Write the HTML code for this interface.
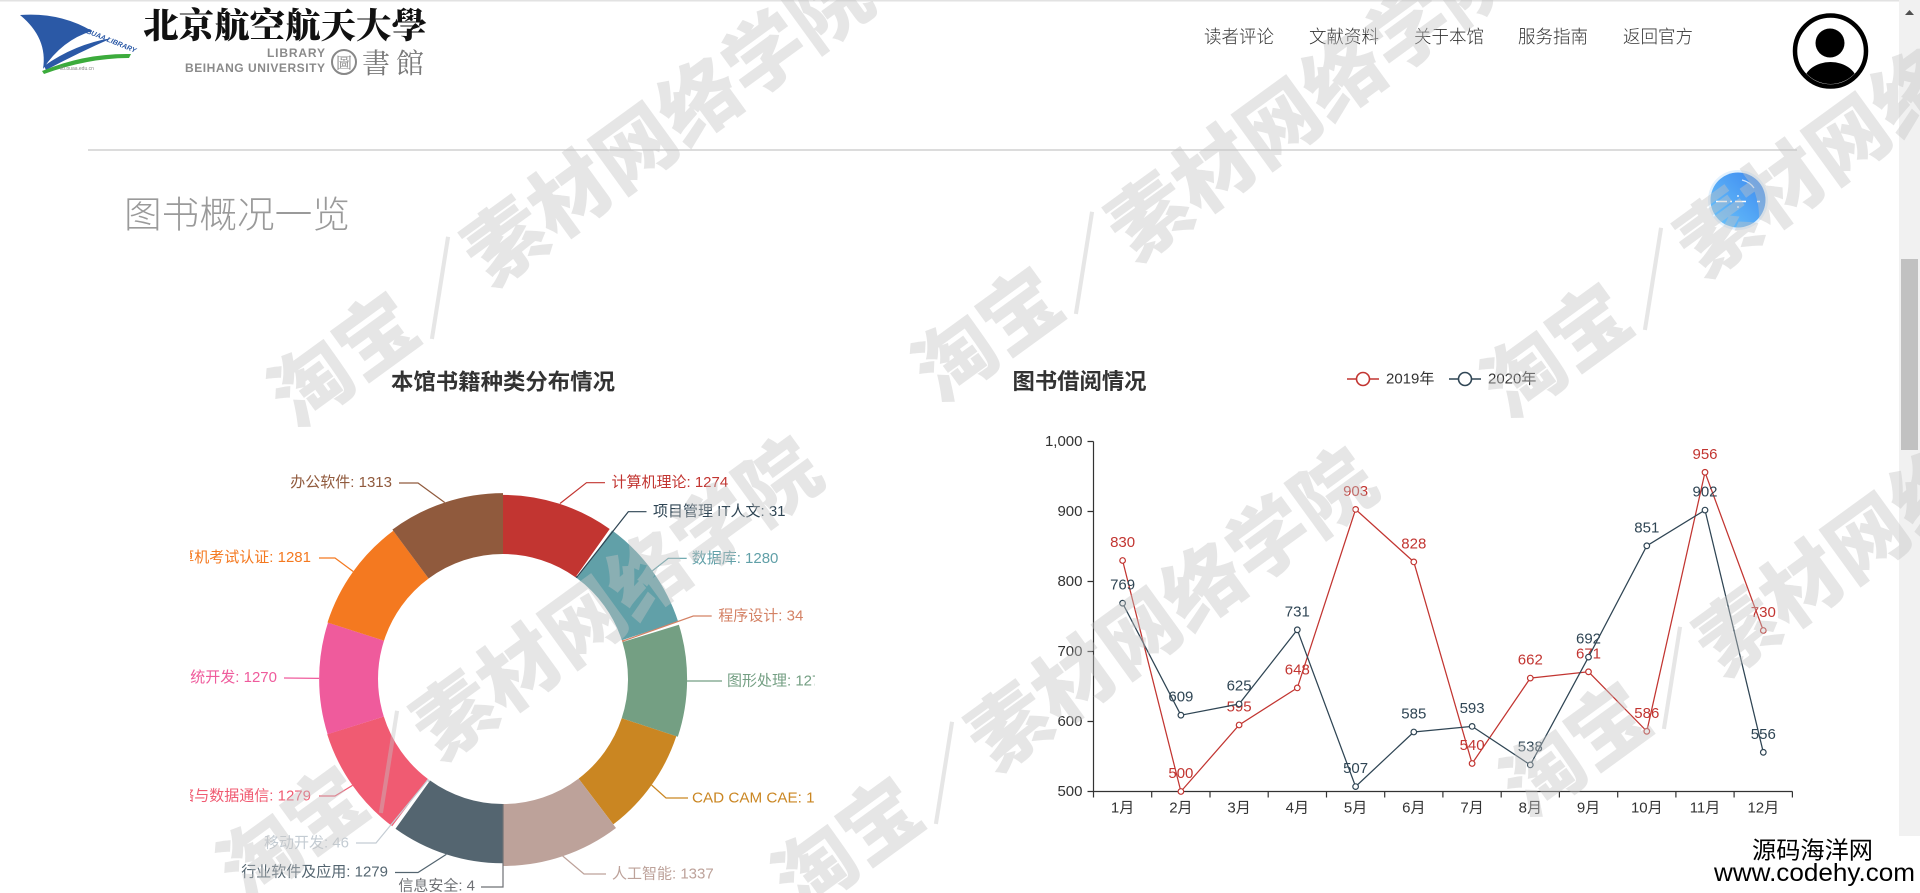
<!DOCTYPE html>
<html><head><meta charset="utf-8"><style>
html,body{margin:0;padding:0;background:#fff;width:1920px;height:893px;overflow:hidden;}
svg{display:block;}
</style></head><body>
<svg width="1920" height="893" viewBox="0 0 1920 893" xmlns="http://www.w3.org/2000/svg" font-family="'Liberation Sans','Noto Sans CJK SC',sans-serif">
<defs>
<clipPath id="pieclip"><rect x="190" y="390" width="625" height="503"/></clipPath>
<clipPath id="avclip"><circle cx="1830.5" cy="51" r="33"/></clipPath>
<linearGradient id="btng" x1="1" y1="0" x2="0" y2="1"><stop offset="0" stop-color="#3a86ef"/><stop offset="1" stop-color="#6cc6fb"/></linearGradient>
</defs>
<rect x="0" y="0" width="1920" height="893" fill="#fff"/>
<rect x="0" y="0" width="1920" height="1.5" fill="#e2e2e2"/>

<!-- Logo -->
<g>
<path d="M20,15 Q60,12 92,31 Q62,40 43,69 Q48,38 20,15 Z" fill="#2b59a6"/>
<path d="M44,66 Q75,44 112,38 Q80,52 46,70 Z" fill="#2b59a6"/>
<path d="M42,71 Q85,53 131,54 L129,58 Q88,58 44,74 Z" fill="#3cab3c"/>
<text x="86" y="33" font-size="7" font-weight="700" font-style="italic" fill="#2b59a6" transform="rotate(22 86 33)">BUAA LIBRARY</text>
<text x="60" y="70" font-size="5" fill="#888">lib.buaa.edu.cn</text>
<text x="143" y="38" font-size="35" font-weight="900" font-family="'Noto Serif CJK SC','Noto Sans CJK SC',serif" fill="#111" textLength="284" lengthAdjust="spacingAndGlyphs">北京航空航天大學</text>
<text x="267" y="57" font-size="12" font-weight="700" fill="#8a8a8a" textLength="58" lengthAdjust="spacing">LIBRARY</text>
<text x="185" y="72" font-size="12" font-weight="700" fill="#8a8a8a" textLength="140" lengthAdjust="spacing">BEIHANG UNIVERSITY</text>
<circle cx="344" cy="62" r="12" fill="none" stroke="#888" stroke-width="2"/>
<text x="344" y="62" font-size="16" text-anchor="middle" dominant-baseline="central" fill="#888" font-family="'Noto Serif CJK TC',serif">圖</text>
<text x="362" y="73" font-size="28" fill="#7a7a7a" font-family="'Noto Serif CJK TC','Noto Serif CJK SC',serif" textLength="62" lengthAdjust="spacing">書館</text>
</g>

<!-- Nav -->
<g font-size="18" fill="#333" font-weight="300" dominant-baseline="central">
<text x="1204" y="37" textLength="70" lengthAdjust="spacingAndGlyphs">读者评论</text>
<text x="1309" y="37" textLength="70" lengthAdjust="spacingAndGlyphs">文献资料</text>
<text x="1414" y="37" textLength="70" lengthAdjust="spacingAndGlyphs">关于本馆</text>
<text x="1518" y="37" textLength="70" lengthAdjust="spacingAndGlyphs">服务指南</text>
<text x="1623" y="37" textLength="70" lengthAdjust="spacingAndGlyphs">返回官方</text>
</g>

<!-- Avatar -->
<circle cx="1830.5" cy="51" r="35.5" fill="#fff" stroke="#000" stroke-width="4.5"/>
<circle cx="1830" cy="43" r="14.5" fill="#000"/>
<ellipse cx="1830.5" cy="83" rx="27" ry="21" fill="#000" clip-path="url(#avclip)"/>

<!-- HR -->
<line x1="88" y1="150" x2="1797" y2="150" stroke="#c8c8c8" stroke-width="1.2"/>

<!-- Heading -->
<text x="124" y="215" font-size="37" fill="#9a9a9a" font-weight="300" dominant-baseline="central" textLength="226" lengthAdjust="spacingAndGlyphs">图书概况一览</text>

<!-- Blue button -->
<circle cx="1738" cy="200" r="30" fill="#e3f1fd"/>
<circle cx="1738" cy="200" r="27.5" fill="url(#btng)"/>
<line x1="1716" y1="201.5" x2="1760" y2="201.5" stroke="#fff" stroke-width="1.6" stroke-dasharray="11 3 2 3 11"/>
<circle cx="1738" cy="196" r="0.9" fill="#fff"/>
<circle cx="1738" cy="207" r="0.9" fill="#fff"/>
<path d="M1742,180 Q1750,182 1754,188" stroke="#cfe6ff" stroke-width="1.2" fill="none"/>

<!-- Pie title -->
<text x="503" y="382" font-size="22" font-weight="700" fill="#333" text-anchor="middle" dominant-baseline="central" textLength="224" lengthAdjust="spacingAndGlyphs">本馆书籍种类分布情况</text>

<!-- Pie slices -->
<g>
<path d="M503,494.9 A184.08,184.08 0 0 1 609.7,529.0 L575.5,577.2 A125,125 0 0 0 503,554 Z" fill="#c23531"/>
<path d="M576.3,576.0 A126.44,126.44 0 0 1 577.9,577.1 L577.0,578.3 A125,125 0 0 0 575.5,577.2 Z" fill="#2f4554"/>
<path d="M612.1,530.4 A184.36,184.36 0 0 1 678.2,621.7 L621.8,640.2 A125,125 0 0 0 577.0,578.3 Z" fill="#61a0a8"/>
<path d="M623.3,639.7 A126.58,126.58 0 0 1 624.0,641.7 L622.4,642.1 A125,125 0 0 0 621.8,640.2 Z" fill="#d48265"/>
<path d="M678.9,624.7 A184.12,184.12 0 0 1 677.8,736.8 L621.7,718.3 A125,125 0 0 0 622.4,642.1 Z" fill="#749f83"/>
<path d="M676.3,736.3 A182.55,182.55 0 0 1 613.3,824.4 L578.6,778.6 A125,125 0 0 0 621.7,718.3 Z" fill="#ca8622"/>
<path d="M616.0,828.0 A187,187 0 0 1 503,866 L503,804 A125,125 0 0 0 578.6,778.6 Z" fill="#bda29a"/>
<path d="M502.6,863.3 A184.31,184.31 0 0 1 395.5,828.7 L430.1,780.5 A125,125 0 0 0 502.8,804 Z" fill="#546570"/>
<path d="M428.8,782.3 A127.13,127.13 0 0 1 426.6,780.6 L427.8,778.9 A125,125 0 0 0 430.1,780.5 Z" fill="#c4ccd3"/>
<path d="M392.2,826.3 A184.31,184.31 0 0 1 327.2,734.3 L383.8,716.5 A125,125 0 0 0 427.8,778.9 Z" fill="#f05b72"/>
<path d="M327.6,734.2 A183.89,183.89 0 0 1 328.0,622.6 L384.0,640.7 A125,125 0 0 0 383.8,716.5 Z" fill="#ef5b9c"/>
<path d="M327.5,622.5 A184.40,184.40 0 0 1 393.3,530.8 L428.6,578.5 A125,125 0 0 0 384.0,640.7 Z" fill="#f47920"/>
<path d="M392.4,529.6 A185.89,185.89 0 0 1 503,493.1 L503,554 A125,125 0 0 0 428.6,578.5 Z" fill="#905a3d"/>
</g>

<!-- Pie labels -->
<g clip-path="url(#pieclip)" font-size="15" fill="none" stroke-width="1.2">
<path d="M560,503.5 L586.5,482.7 L605,482.7" stroke="#c23531"/>
<path d="M577,577 L628.3,511.7 L646.5,511.7" stroke="#2f4554"/>
<path d="M652.3,570.9 L668.3,558.3 L686.7,558.3" stroke="#61a0a8"/>
<path d="M623,641 L693.3,616 L711.7,616" stroke="#d48265"/>
<path d="M687,681 L722,681" stroke="#749f83"/>
<path d="M651.5,785 L666,798 L688,798" stroke="#ca8622"/>
<path d="M562.7,856 L584,874 L606,874" stroke="#bda29a"/>
<path d="M503,804 L503,887 L481,887" stroke="#6e7074"/>
<path d="M446.3,854.4 L418,872.5 L395,872.5" stroke="#546570"/>
<path d="M427,781 L376,843 L356,843" stroke="#c4ccd3"/>
<path d="M352.5,785.4 L335,796 L319,796" stroke="#f05b72"/>
<path d="M319,678.4 L284,678" stroke="#ef5b9c"/>
<path d="M353.2,571.5 L335,558 L319,558" stroke="#f47920"/>
<path d="M444.7,502.5 L418,483 L399,483" stroke="#905a3d"/>
<g stroke="none" dominant-baseline="central">
<text x="611.5" y="482.7" fill="#c23531">计算机理论: 1274</text>
<text x="653" y="511.7" fill="#2f4554">项目管理 IT人文: 31</text>
<text x="691.7" y="558.3" fill="#61a0a8">数据库: 1280</text>
<text x="718.3" y="616" fill="#d48265">程序设计: 34</text>
<text x="727" y="681" fill="#749f83">图形处理: 1275</text>
<text x="692" y="798" fill="#ca8622" textLength="148" lengthAdjust="spacingAndGlyphs">CAD CAM CAE: 1241</text>
<text x="612" y="874" fill="#bda29a">人工智能: 1337</text>
<text x="475" y="886" fill="#6e7074" text-anchor="end">信息安全: 4</text>
<text x="388" y="872" fill="#546570" text-anchor="end">行业软件及应用: 1279</text>
<text x="349" y="843" fill="#c4ccd3" text-anchor="end">移动开发: 46</text>
<text x="311" y="796" fill="#f05b72" text-anchor="end">网络与数据通信: 1279</text>
<text x="277" y="677.5" fill="#ef5b9c" text-anchor="end">系统开发: 1270</text>
<text x="311" y="557.5" fill="#f47920" text-anchor="end">计算机考试认证: 1281</text>
<text x="392" y="482.5" fill="#905a3d" text-anchor="end">办公软件: 1313</text>
</g>
</g>

<!-- Line chart title & legend -->
<text x="1012.5" y="381.5" font-size="22" font-weight="700" fill="#333" dominant-baseline="central" textLength="134" lengthAdjust="spacingAndGlyphs">图书借阅情况</text>
<line x1="1347" y1="379" x2="1379" y2="379" stroke="#c23531" stroke-width="1.6"/>
<circle cx="1363" cy="379" r="6.5" fill="#fff" stroke="#c23531" stroke-width="1.6"/>
<text x="1386" y="379" font-size="15" fill="#333" dominant-baseline="central">2019年</text>
<line x1="1449" y1="379" x2="1481" y2="379" stroke="#2f4554" stroke-width="1.6"/>
<circle cx="1465" cy="379" r="6.5" fill="#fff" stroke="#2f4554" stroke-width="1.6"/>
<text x="1488" y="379" font-size="15" fill="#333" dominant-baseline="central">2020年</text>

<!-- Axes -->
<g stroke="#333" stroke-width="1.2" fill="none">
<line x1="1093.5" y1="441.5" x2="1093.5" y2="791.5"/>
<line x1="1093.5" y1="791.5" x2="1792.5" y2="791.5"/>
<path d="M1087.5,441.5H1093.5M1087.5,511.5H1093.5M1087.5,581.5H1093.5M1087.5,651.5H1093.5M1087.5,721.5H1093.5M1087.5,791.5H1093.5"/>
<path d="M1093.5,791.5V797.5M1151.7,791.5V797.5M1210,791.5V797.5M1268.2,791.5V797.5M1326.5,791.5V797.5M1384.7,791.5V797.5M1442.9,791.5V797.5M1501.2,791.5V797.5M1559.4,791.5V797.5M1617.7,791.5V797.5M1675.9,791.5V797.5M1734.1,791.5V797.5M1792.4,791.5V797.5"/>
</g>
<g font-size="15" fill="#333" dominant-baseline="central" text-anchor="end">
<text x="1082.5" y="441.5">1,000</text>
<text x="1082.5" y="511.5">900</text>
<text x="1082.5" y="581.5">800</text>
<text x="1082.5" y="651.5">700</text>
<text x="1082.5" y="721.5">600</text>
<text x="1082.5" y="791.5">500</text>
</g>
<g font-size="15" fill="#333" dominant-baseline="central" text-anchor="middle">
<text x="1122.6" y="808">1月</text><text x="1180.9" y="808">2月</text><text x="1239.1" y="808">3月</text><text x="1297.3" y="808">4月</text><text x="1355.6" y="808">5月</text><text x="1413.8" y="808">6月</text><text x="1472.1" y="808">7月</text><text x="1530.3" y="808">8月</text><text x="1588.5" y="808">9月</text><text x="1646.8" y="808">10月</text><text x="1705" y="808">11月</text><text x="1763.3" y="808">12月</text>
</g>

<!-- 2019 series -->
<polyline fill="none" stroke="#c23531" stroke-width="1.25" points="1122.6,560.5 1180.9,791.5 1239.1,725.0 1297.3,687.9 1355.6,509.4 1413.8,561.9 1472.1,763.5 1530.3,678.1 1588.5,671.8 1646.8,731.3 1705.0,472.3 1763.3,630.5"/>
<g fill="#fff" stroke="#c23531" stroke-width="1.2">
<circle cx="1122.6" cy="560.5" r="2.8"/><circle cx="1180.9" cy="791.5" r="2.8"/><circle cx="1239.1" cy="725.0" r="2.8"/><circle cx="1297.3" cy="687.9" r="2.8"/><circle cx="1355.6" cy="509.4" r="2.8"/><circle cx="1413.8" cy="561.9" r="2.8"/><circle cx="1472.1" cy="763.5" r="2.8"/><circle cx="1530.3" cy="678.1" r="2.8"/><circle cx="1588.5" cy="671.8" r="2.8"/><circle cx="1646.8" cy="731.3" r="2.8"/><circle cx="1705.0" cy="472.3" r="2.8"/><circle cx="1763.3" cy="630.5" r="2.8"/>
</g>
<g font-size="15" fill="#c23531" dominant-baseline="central" text-anchor="middle">
<text x="1122.6" y="542.5">830</text><text x="1180.9" y="773.5">500</text><text x="1239.1" y="707">595</text><text x="1297.3" y="670">648</text><text x="1355.6" y="491.4">903</text><text x="1413.8" y="544">828</text><text x="1472.1" y="745.5">540</text><text x="1530.3" y="660">662</text><text x="1588.5" y="654">671</text><text x="1646.8" y="713.3">586</text><text x="1705.0" y="454.3">956</text><text x="1763.3" y="612.5">730</text>
</g>

<!-- 2020 series -->
<polyline fill="none" stroke="#2f4554" stroke-width="1.25" points="1122.6,603.2 1180.9,715.2 1239.1,704.0 1297.3,629.8 1355.6,786.6 1413.8,732.0 1472.1,726.4 1530.3,764.9 1588.5,657.1 1646.8,545.8 1705.0,510.1 1763.3,752.3"/>
<g fill="#fff" stroke="#2f4554" stroke-width="1.2">
<circle cx="1122.6" cy="603.2" r="2.8"/><circle cx="1180.9" cy="715.2" r="2.8"/><circle cx="1239.1" cy="704.0" r="2.8"/><circle cx="1297.3" cy="629.8" r="2.8"/><circle cx="1355.6" cy="786.6" r="2.8"/><circle cx="1413.8" cy="732.0" r="2.8"/><circle cx="1472.1" cy="726.4" r="2.8"/><circle cx="1530.3" cy="764.9" r="2.8"/><circle cx="1588.5" cy="657.1" r="2.8"/><circle cx="1646.8" cy="545.8" r="2.8"/><circle cx="1705.0" cy="510.1" r="2.8"/><circle cx="1763.3" cy="752.3" r="2.8"/>
</g>
<g font-size="15" fill="#2f4554" dominant-baseline="central" text-anchor="middle">
<text x="1122.6" y="585.2">769</text><text x="1180.9" y="697.2">609</text><text x="1239.1" y="686">625</text><text x="1297.3" y="611.8">731</text><text x="1355.6" y="768.6">507</text><text x="1413.8" y="714">585</text><text x="1472.1" y="708.4">593</text><text x="1530.3" y="747">538</text><text x="1588.5" y="639">692</text><text x="1646.8" y="527.8">851</text><text x="1705.0" y="492">902</text><text x="1763.3" y="734.3">556</text>
</g>

<!-- Scrollbar -->
<rect x="1899" y="0" width="21" height="893" fill="#f1f1f1"/>
<rect x="1901" y="259" width="17" height="191" fill="#c1c1c1"/>
<polygon points="1905,15 1914,15 1909.5,10" fill="#505050"/>
<polygon points="1905,878 1914,878 1909.5,883" fill="#505050"/>

<!-- Watermarks -->
<g font-size="80" font-weight="900" fill="rgb(195,195,195)" fill-opacity="0.42" font-family="'Noto Sans CJK SC','WenQuanYi Zen Hei',sans-serif">
<text transform="translate(296,430) rotate(-36)">淘宝／素材网络学院</text>
<text transform="translate(245,904) rotate(-36)">淘宝／素材网络学院</text>
<text transform="translate(940,405) rotate(-36)">淘宝／素材网络学院</text>
<text transform="translate(800,915) rotate(-36)">淘宝／素材网络学院</text>
<text transform="translate(1509,421) rotate(-36)">淘宝／素材网络学院</text>
<text transform="translate(1528,820) rotate(-36)">淘宝／素材网络学院</text>
</g>

<!-- Corner site text -->
<rect x="1745" y="836" width="175" height="57" fill="#fff"/>
<text x="1752" y="851" font-size="24" fill="#000" dominant-baseline="central" textLength="121" lengthAdjust="spacingAndGlyphs">源码海洋网</text>
<text x="1714" y="873" font-size="25" fill="#000" dominant-baseline="central" textLength="201" lengthAdjust="spacingAndGlyphs">www.codehy.com</text>
</svg>
</body></html>
